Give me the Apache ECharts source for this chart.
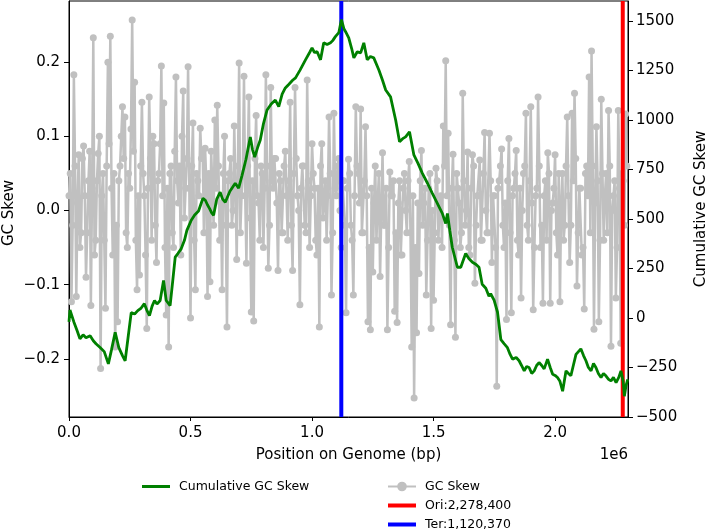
<!DOCTYPE html>
<html>
<head>
<meta charset="utf-8">
<script src="https://cdn.jsdelivr.net/npm/echarts@6/dist/echarts.min.js"></script>
<style>
  html, body { margin: 0; padding: 0; background: #fff; }
  #chart { width: 707px; height: 530px; }
</style>
</head>
<body>
<div id="chart"></div>
<script>
// windows are 5 kb apart; the two lists hold the windows starting at
// 0, 10k, 20k ... and at 5k, 15k, 25k ...
const STEP = 5000;
const GENOME_LEN = 2300000;
const ORI = 2278400;
const TER = 1120370;

// GC skew, windows at 0, 10k, 20k ...
const skewEven = [
  0.02, -0.123, 0.183, -0.116, 0.075, -0.03, 0.087, -0.09, 0.04, -0.128,
  0.233, -0.04, 0.077, -0.213, 0.05, -0.132, 0.2, 0.235, -0.06, -0.184,
  -0.15, 0.06, 0.14, 0.126, -0.05, 0.03, 0.257, 0.173, -0.107, -0.087,
  0.146, 0.02, -0.159, 0.153, -0.04, 0.09, -0.07, 0.05, 0.195, 0.145,
  -0.141, -0.184, 0.06, -0.05, 0.18, 0.01, -0.06, 0.161, 0.03, 0.194,
  -0.145, 0.118, -0.107, 0.04, 0.111, 0.081, 0.084, -0.116, -0.096, 0.03,
  0.122, 0.142, -0.04, -0.107, 0.1, -0.157, 0.05, -0.02, 0.114, -0.066,
  0.199, 0.02, 0.181, -0.071, 0.153, -0.137, -0.149, 0.128, 0.01, 0.06,
  -0.05, 0.183, -0.078, 0.166, 0.03, 0.07, -0.081, 0.04, -0.03, 0.08,
  -0.04, 0.146, -0.081, 0.166, 0.02, -0.127, 0.06, -0.02, 0.176, -0.05,
  0.09, 0.03, -0.06, -0.157, 0.09, 0.01, -0.04, 0.126, -0.114, 0.131,
  0.02, 0.07, -0.05, 0.04, -0.138, 0.069, -0.02, -0.114, 0.14, 0.05,
  0.137, -0.03, 0.113, -0.15, -0.161, -0.083, 0.06, 0.01, -0.089, 0.078,
  -0.02, -0.161, 0.052, 0.02, -0.136, -0.151, 0.04, -0.06, 0.05, -0.03,
  0.066, -0.184, -0.253, -0.165, -0.085, 0.081, 0.01, -0.114, 0.03, -0.159,
  -0.121, 0.057, -0.04, 0.02, 0.114, 0.202, 0.104, -0.154, 0.076, -0.171,
  0.03, -0.05, 0.158, -0.02, 0.079, -0.06, 0.075, -0.098, 0.02, 0.068,
  -0.04, 0.105, -0.03, 0.104, -0.07, 0.02, -0.237, 0.04, 0.083, -0.05,
  -0.147, 0.097, -0.138, 0.03, 0.081, -0.06, -0.118, 0.05, 0.131, -0.04,
  0.14, -0.134, 0.02, 0.153, -0.05, -0.125, 0.04, 0.078, -0.125, 0.01,
  0.075, -0.06, -0.123, 0.05, -0.02, 0.126, -0.07, 0.131, 0.158, -0.102,
  0.03, -0.06, -0.133, 0.06, 0.18, 0.215, -0.16, 0.113, -0.15, 0.15,
  -0.04, 0.05, 0.135, -0.183, 0.02, -0.118, 0.135, -0.179, 0.04, 0.13
];
// GC skew, windows at 5k, 15k, 25k ...
const skewOdd = [
  0.05, -0.02, 0.06, 0.01, -0.05, 0.07, 0.02, -0.03, 0.08, 0.03,
  -0.06, 0.04, 0.1, 0.02, -0.04, 0.06, 0.09, 0.03, 0.05, -0.02,
  0.04, 0.1, 0.07, -0.03, 0.05, 0.11, 0.08, -0.04, 0.02, 0.06,
  0.05, -0.06, 0.03, 0.07, 0.1, -0.02, 0.04, 0.09, 0.02, -0.05,
  0.03, 0.05, -0.03, 0.08, 0.04, 0.06, 0.1, -0.01, 0.07, 0.03,
  0.06, -0.04, 0.05, 0.02, 0.07, -0.03, 0.04, 0.05, 0.08, -0.02,
  0.03, 0.06, 0.01, 0.05, -0.02, 0.04, 0.07, 0.0, 0.03, 0.06,
  -0.03, 0.05, 0.02, 0.06, -0.01, 0.04, 0.07, 0.02, -0.04, 0.05,
  0.03, 0.06, -0.02, 0.04, 0.07, 0.01, 0.05, -0.03, 0.06, 0.02,
  0.04, -0.02, 0.05, 0.07, 0.0, 0.03, 0.06, -0.03, 0.04, 0.02,
  0.05, -0.04, 0.03, 0.06, -0.01, 0.04, 0.02, 0.05, -0.03, 0.03,
  0.06, 0.0, 0.04, -0.02, 0.03, 0.05, -0.04, 0.02, 0.06, 0.01,
  -0.03, 0.04, 0.02, -0.05, 0.03, 0.01, -0.04, 0.05, 0.0, -0.02,
  0.03, -0.05, 0.02, 0.04, -0.03, 0.01, -0.06, 0.03, 0.0, 0.04,
  -0.03, 0.02, -0.05, 0.01, 0.04, -0.02, 0.03, -0.04, 0.05, 0.0,
  -0.03, 0.04, 0.01, -0.05, 0.06, 0.02, -0.02, 0.03, -0.04, 0.05,
  0.01, -0.03, 0.04, 0.0, -0.05, 0.03, 0.06, -0.02, 0.02, -0.04,
  0.05, 0.0, -0.03, 0.04, 0.02, -0.05, 0.03, 0.06, -0.02, 0.01,
  0.04, -0.03, 0.02, 0.05, -0.04, 0.03, 0.0, 0.06, -0.02, 0.04,
  0.01, -0.05, 0.03, 0.06, -0.02, 0.02, -0.04, 0.05, 0.0, 0.03,
  -0.03, 0.05, 0.01, -0.04, 0.06, 0.02, -0.02, 0.04, 0.07, -0.03,
  0.03, -0.05, 0.05, 0.02, -0.03, 0.06, 0.01, 0.04, -0.04, 0.05,
  0.02, -0.03, 0.06, 0.0, 0.04, -0.05, 0.03, 0.05, -0.02, 0.06
];

// cumulative GC skew: positions (kb) and values
const cumPosKb = [
  0, 4, 10, 20, 32, 45, 58, 70, 87, 100,
  111, 128, 145, 162, 175, 190, 205, 220, 231, 245,
  256, 270, 283, 297, 310, 320, 331, 342, 352, 362,
  375, 389, 400, 416, 427, 437, 448, 462, 475, 485,
  503, 517, 533, 551, 561, 570, 578, 587, 595, 608,
  622, 632, 643, 662, 684, 698, 712, 728, 746, 755,
  764, 776, 787, 800, 815, 832, 849, 863, 877, 890,
  905, 920, 932, 950, 973, 990, 1000, 1010, 1021, 1035,
  1048, 1062, 1076, 1085, 1096, 1110, 1121, 1131, 1138, 1151,
  1163, 1172, 1186, 1200, 1213, 1227, 1240, 1254, 1275, 1290,
  1303, 1323, 1344, 1360, 1373, 1385, 1401, 1419, 1436, 1454,
  1475, 1495, 1515, 1536, 1550, 1557, 1567, 1577, 1598, 1612,
  1632, 1645, 1660, 1675, 1687, 1700, 1715, 1728, 1735, 1749,
  1763, 1777, 1790, 1804, 1815, 1825, 1840, 1852, 1862, 1873,
  1883, 1893, 1904, 1914, 1924, 1934, 1945, 1955, 1969, 1980,
  1990, 2000, 2010, 2020, 2031, 2045, 2055, 2065, 2075, 2086,
  2096, 2106, 2117, 2127, 2137, 2148, 2158, 2168, 2178, 2189,
  2199, 2209, 2220, 2230, 2240, 2251, 2262, 2271, 2280, 2285,
  2292, 2299
];
const cumVal = [
  -20, 40, 30, -20, -60, -105, -85, -100, -90, -115,
  -130, -149, -170, -232, -160, -73, -150, -190, -216, -80,
  27, 20, 37, 50, 72, 40, 12, 60, 88, 70,
  88, 189, 88, 62, 189, 307, 325, 350, 392, 442,
  493, 520, 540, 604, 594, 570, 553, 530, 518, 600,
  635, 600, 584, 640, 680, 655, 720, 800, 914, 850,
  812, 860, 898, 980, 1050, 1080, 1100, 1067, 1130, 1161,
  1180, 1200, 1212, 1250, 1303, 1340, 1363, 1340, 1344, 1303,
  1389, 1380, 1389, 1400, 1420, 1440, 1506, 1460, 1445, 1414,
  1360, 1313, 1344, 1338, 1389, 1303, 1320, 1313, 1252, 1200,
  1151, 1116, 999, 889, 905, 914, 940, 823, 780, 730,
  680, 629, 580, 528, 477, 528, 440, 357, 256, 256,
  325, 300, 281, 270, 256, 170, 150, 110, 122, 90,
  30, -110, -130, -150, -184, -208, -200, -216, -240, -267,
  -245, -250, -280, -267, -240, -225, -240, -257, -208, -250,
  -284, -290, -301, -320, -370, -267, -280, -292, -240, -184,
  -170, -156, -190, -216, -250, -267, -230, -250, -280, -301,
  -280, -292, -310, -318, -300, -326, -300, -267, -320, -395,
  -340, -310
];

// axis ranges and tick labels
const xTicks = [0, 500000, 1000000, 1500000, 2000000];
const skewRange = [-0.2785, 0.2825];
const skewTicks = [-0.2, -0.1, 0, 0.1, 0.2];
const cumRange = [-500, 1600];
const cumTicks = [-500, -250, 0, 250, 500, 750, 1000, 1250, 1500];

const FONT = "DejaVu Sans";
const minus = s => s.replace("-", "\u2212");
// thin bar legend handles (box 28x12, bar centred)
const lineIcon = (y0, y1) => `path://M0,0L0,0M0,${y0}H28V${y1}H0ZM28,12L28,12`;

const skewData = skewEven.flatMap((v, i) => {
  const pts = [[2 * i * STEP, v]];
  if (i < skewOdd.length) pts.push([(2 * i + 1) * STEP, skewOdd[i]]);
  return pts;
});
const cumData = cumPosKb.map((p, i) => [p * 1000, cumVal[i]]);

const chart = echarts.init(document.getElementById("chart"), null, { renderer: "canvas" });

const axisCommon = {
  axisLine: { show: true, onZero: false, lineStyle: { color: "#000", width: 1 } },
  splitLine: { show: false },
  nameTextStyle: { fontFamily: FONT, fontSize: 15, color: "#000" }
};
const legendText = { fontFamily: FONT, fontSize: 12.5, lineHeight: 12, color: "#000", padding: [0, 0, 0, 4] };
// rotated y-axis titles, drawn as plain text
const yTitle = (text, x, y) => ({
  type: "text", x, y, rotation: Math.PI / 2,
  style: { text, font: "15px " + FONT, fill: "#000", align: "center", verticalAlign: "middle" }
});

chart.setOption({
  animation: false,
  backgroundColor: "#fff",
  grid: {
    left: 69, right: 79, top: 1, bottom: 113,
    containLabel: false,
    outerBoundsMode: "none",
    show: true, borderColor: "#000", borderWidth: 1
  },
  xAxis: {
    ...axisCommon,
    type: "value",
    min: 0,
    max: GENOME_LEN,
    name: "Position on Genome (bp)",
    nameLocation: "middle",
    nameGap: 31,
    axisTick: { show: true, length: 4, customValues: xTicks, lineStyle: { color: "#000" } },
    axisLabel: {
      customValues: xTicks,
      formatter: v => (v / 1e6).toFixed(1),
      fontFamily: FONT, fontSize: 15, color: "#000", margin: 9
    }
  },
  yAxis: [
    {
      ...axisCommon,
      type: "value",
      position: "left",
      min: skewRange[0],
      max: skewRange[1],
      axisTick: { show: true, length: 5, customValues: skewTicks, lineStyle: { color: "#000" } },
      axisLabel: {
        customValues: skewTicks,
        formatter: v => minus(v.toFixed(1)),
        fontFamily: FONT, fontSize: 15, color: "#000", margin: 9
      }
    },
    {
      ...axisCommon,
      type: "value",
      position: "right",
      min: cumRange[0],
      max: cumRange[1],
      axisTick: { show: true, length: 5, customValues: cumTicks, lineStyle: { color: "#000" } },
      axisLabel: {
        customValues: cumTicks,
        formatter: v => minus(String(v)),
        fontFamily: FONT, fontSize: 15, color: "#000", margin: 8
      }
    }
  ],
  legend: [
    {
      data: [{ name: "Cumulative GC Skew", icon: lineIcon(4.5, 7.5) }],
      left: 142, top: 480, padding: 0,
      itemWidth: 28, itemHeight: 12,
      textStyle: legendText
    },
    {
      data: [
        "GC Skew",
        { name: "Ori:2,278,400", icon: lineIcon(4, 8) },
        { name: "Ter:1,120,370", icon: lineIcon(4, 8) }
      ],
      orient: "vertical",
      left: 387, top: 480, height: 80, padding: 0,
      itemGap: 6,
      itemWidth: 28, itemHeight: 12,
      textStyle: legendText
    }
  ],
  graphic: [
    {
      type: "text",
      right: 79, top: 448,
      style: { text: "1e6", font: "15px " + FONT, fill: "#000" }
    },
    yTitle("GC Skew", 9, 213),
    yTitle("Cumulative GC Skew", 701, 209)
  ],
  series: [
    {
      name: "GC Skew",
      type: "line",
      yAxisIndex: 0,
      data: skewData,
      z: 1,
      color: "#c0c0c0",
      lineStyle: { color: "#c0c0c0", width: 2.5 },
      symbol: "circle",
      symbolSize: 7,
      showSymbol: true,
      showAllSymbol: true,
      itemStyle: { color: "#c0c0c0" }
    },
    {
      name: "Ori:2,278,400",
      type: "line",
      yAxisIndex: 0,
      data: [[ORI, skewRange[0]], [ORI, skewRange[1]]],
      z: 2,
      color: "#ff0000",
      symbol: "none",
      lineStyle: { color: "#ff0000", width: 4 }
    },
    {
      name: "Ter:1,120,370",
      type: "line",
      yAxisIndex: 0,
      data: [[TER, skewRange[0]], [TER, skewRange[1]]],
      z: 2,
      color: "#0000ff",
      symbol: "none",
      lineStyle: { color: "#0000ff", width: 4 }
    },
    {
      name: "Cumulative GC Skew",
      type: "line",
      yAxisIndex: 1,
      data: cumData,
      z: 3,
      color: "#008000",
      symbol: "none",
      lineStyle: { color: "#008000", width: 2.8 }
    }
  ]
});
</script>
</body>
</html>
